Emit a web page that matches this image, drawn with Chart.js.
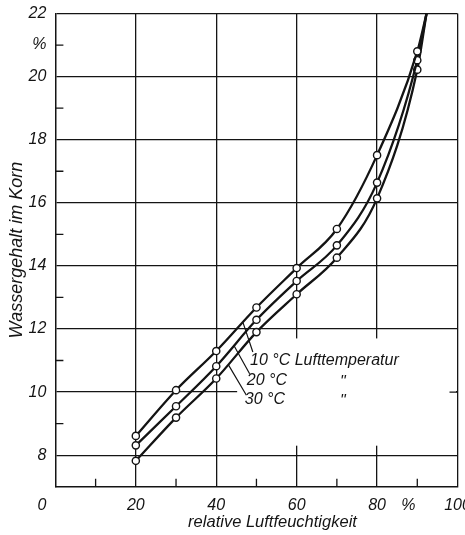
<!DOCTYPE html>
<html>
<head>
<meta charset="utf-8">
<script src="https://cdn.jsdelivr.net/npm/chart.js@4/dist/chart.umd.min.js"></script>
<style>
html,body{margin:0;padding:0;background:#fff;}
#wrap{width:465px;height:535px;position:relative;}
</style>
</head>
<body>
<div id="wrap"><canvas id="c"></canvas></div>
<script>
// ---- data ----
const relHumidity = [20, 30, 40, 50, 60, 70, 80, 90];
const water10C = [8.61, 10.06, 11.30, 12.68, 13.93, 15.17, 17.51, 20.80];
const water20C = [8.31, 9.55, 10.82, 12.29, 13.52, 14.65, 16.64, 20.52];
const water30C = [7.82, 9.19, 10.43, 11.90, 13.10, 14.26, 16.14, 20.22];
const curveEnd = [92.3, 22];           // the three curves meet at the top edge
const seriesNames = ['10 °C Lufttemperatur', '20 °C', '30 °C'];
const dittoMark = '"';
const xTickLabels = {0: '0      ', 20: '20', 40: '40', 60: '60', 80: '80', 90: '%    ', 100: '100'};
const yTickLabels = {8: '8', 10: '10', 12: '12', 14: '14', 16: '16', 18: '18', 20: '20', 21: '%', 22: '22'};
const xTitle = '       relative Luftfeuchtigkeit';
const yTitle = 'Wassergehalt im Korn';

// ---- styling / layout ----
const ink = '#141414';
const fontFamily = '"Liberation Sans", Arial, sans-serif';
const tickFont = {family: fontFamily, style: 'italic', size: 16};

// annotation layout (data units)
const annot = {
  labels: [
    {text: 0, x: 48.4, y: 10.99},
    {text: 1, x: 47.6, y: 10.36, ditto: 71.5},
    {text: 2, x: 47.1, y: 9.75, ditto: 71.5}
  ],
  leaders: [
    [46.66, 12.20, 49.10, 11.27],
    [44.50, 11.45, 48.30, 10.58],
    [43.00, 10.87, 47.50, 9.90]
  ],
  clearBox: {x0: 45.2, y0: 8.3, y1: 11.7}
};

function series(vals) {
  return relHumidity.map((x, i) => ({x: x, y: vals[i]})).concat([{x: curveEnd[0], y: curveEnd[1]}]);
}
function ds(vals) {
  return {
    data: series(vals),
    borderColor: ink,
    borderWidth: 2.3,
    backgroundColor: '#fff',
    pointBackgroundColor: '#fff',
    pointBorderColor: ink,
    pointBorderWidth: 1.4,
    pointRadius: c => (c.dataIndex < relHumidity.length ? 3.6 : 0),
    cubicInterpolationMode: 'monotone',
    fill: false
  };
}

const extras = {
  id: 'extras',
  beforeDatasetsDraw(chart) {
    const {ctx, chartArea: a, scales: {x, y}} = chart;
    ctx.save();
    // clear grid behind the annotation block
    const b = annot.clearBox;
    const x0 = x.getPixelForValue(b.x0), x1 = a.right - 1.5;
    const yt = y.getPixelForValue(b.y1), yb = y.getPixelForValue(b.y0);
    ctx.fillStyle = '#fff';
    ctx.fillRect(x0, yt, x1 - x0, yb - yt);
    ctx.strokeStyle = ink;
    ctx.lineWidth = 1.3;
    ctx.beginPath();
    const p10 = y.getPixelForValue(10);
    ctx.moveTo(a.right - 8, p10); ctx.lineTo(a.right, p10);
    // minor ticks
    for (let v = 9; v <= 21; v += 2) {
      const py = y.getPixelForValue(v);
      ctx.moveTo(a.left, py); ctx.lineTo(a.left + 8, py);
    }
    for (let v = 10; v <= 90; v += 20) {
      const px = x.getPixelForValue(v);
      ctx.moveTo(px, a.bottom); ctx.lineTo(px, a.bottom - 8);
    }
    ctx.stroke();
    ctx.restore();
  },
  afterDatasetsDraw(chart) {
    const {ctx, scales: {x, y}} = chart;
    ctx.save();
    ctx.strokeStyle = ink;
    ctx.lineWidth = 1.2;
    ctx.beginPath();
    annot.leaders.forEach(l => {
      ctx.moveTo(x.getPixelForValue(l[0]), y.getPixelForValue(l[1]));
      ctx.lineTo(x.getPixelForValue(l[2]), y.getPixelForValue(l[3]));
    });
    ctx.stroke();
    ctx.fillStyle = ink;
    ctx.font = 'italic 16px ' + fontFamily;
    ctx.textBaseline = 'middle';
    annot.labels.forEach(l => {
      ctx.textAlign = 'left';
      ctx.fillText(seriesNames[l.text], x.getPixelForValue(l.x), y.getPixelForValue(l.y));
      if (l.ditto !== undefined) {
        ctx.textAlign = 'center';
        ctx.fillText(dittoMark, x.getPixelForValue(l.ditto), y.getPixelForValue(l.y) + 2);
      }
    });
    ctx.restore();
  }
};

new Chart(document.getElementById('c'), {
  type: 'line',
  data: {datasets: [ds(water10C), ds(water20C), ds(water30C)]},
  options: {
    responsive: true,
    maintainAspectRatio: false,
    animation: false,
    layout: {padding: {left: 0, top: 13.5, right: 7.5, bottom: 0}},
    plugins: {legend: {display: false}, tooltip: {enabled: false}},
    scales: {
      x: {
        type: 'linear', min: 0, max: 100,
        border: {display: true, color: ink, width: 1.5},
        grid: {
          drawTicks: false, lineWidth: 1.3,
          color: c => (c.tick && c.tick.value > 0 && c.tick.value % 20 === 0) ? ink : 'rgba(0,0,0,0)'
        },
        ticks: {
          stepSize: 10, autoSkip: false, maxRotation: 0, padding: 9, color: ink, font: tickFont,
          callback: v => (xTickLabels[v] !== undefined ? xTickLabels[v] : '')
        },
        title: {display: true, text: xTitle, color: ink, padding: {top: 0, bottom: 3},
                font: {family: fontFamily, style: 'italic', size: 16.5}},
        afterFit(s) { s.height = 48.3; s.paddingLeft = 0; s.paddingRight = 0; }
      },
      y: {
        type: 'linear', min: 7, max: 22,
        border: {display: true, color: ink, width: 1.5},
        grid: {
          drawTicks: false, lineWidth: 1.3,
          color: c => (c.tick && c.tick.value >= 8 && c.tick.value % 2 === 0) ? ink : 'rgba(0,0,0,0)'
        },
        ticks: {
          stepSize: 1, autoSkip: false, padding: 9, color: ink, font: tickFont,
          callback: v => (yTickLabels[v] !== undefined ? yTickLabels[v] : '')
        },
        title: {display: true, text: yTitle, color: ink, padding: {top: 6, bottom: 0},
                font: {family: fontFamily, style: 'italic', size: 18}},
        afterFit(s) { s.width = 55.4; s.paddingTop = 0; s.paddingBottom = 0; }
      }
    }
  },
  plugins: [extras]
});
</script>
</body>
</html>
